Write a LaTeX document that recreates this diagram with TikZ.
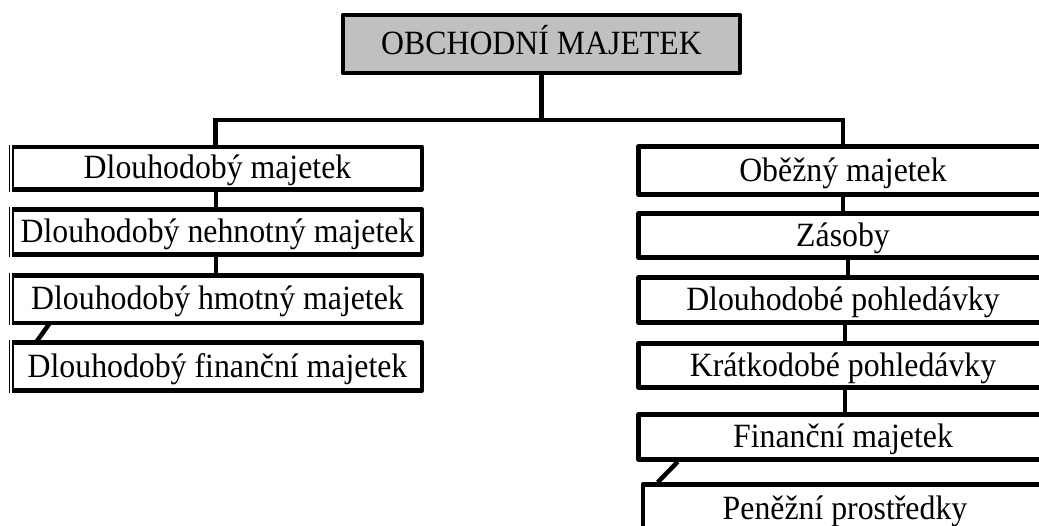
\documentclass[tikz,border=0pt]{standalone}
\usepackage{fontspec}
\setmainfont{Liberation Serif}
\newfontfamily\diagfont[FakeStretch=0.935]{Liberation Serif}
\usetikzlibrary{calc}
\definecolor{boxgray}{HTML}{C0C0C0}
\begin{document}
\begin{tikzpicture}[x=1pt,y=-1pt,
  box/.style={draw, line width=4.5pt, line join=round, inner sep=0pt,
    text height=24pt, text depth=3pt, minimum width=409pt,
    font=\diagfont\fontsize{34pt}{40pt}\selectfont},
  lbox/.style={box, draw=none, outer sep=0pt},
  conn/.style={line width=4.5pt},
  lborder/.style={line width=4.5pt, line join=round},
  lthick/.style={line width=1.7pt},
  lthin/.style={line width=0.8pt}]
\useasboundingbox (0,0) rectangle (1039,525);
\clip (0,0) rectangle (1039,525);

% top
\node[box, fill=boxgray, minimum width=397pt, minimum height=58pt] (top) at (541.5,44) {OBCHODNÍ MAJETEK};

% left column
\node[lbox, minimum height=42.5pt] (L1) at (217.5,168) {Dlouhodobý majetek};
\node[lbox, minimum height=45pt]   (L2) at (217.5,232) {Dlouhodobý nehnotný majetek};
\node[lbox, minimum height=47.5pt] (L3) at (217.5,299) {Dlouhodobý hmotný majetek};
\node[lbox, minimum height=48pt]   (L4) at (217.5,366.5) {Dlouhodobý finanční majetek};
\foreach \n in {L1,L2,L3,L4}{
  \draw[lborder] (\n.north west) -- (\n.north east) -- (\n.south east) -- (\n.south west);
  \draw[lthick] ($(\n.north west)+(0,-2.25)$) -- ($(\n.south west)+(0,2.25)$);
  \draw[lthin] ($(\n.north west)+(-3.5,-2.25)$) -- ($(\n.south west)+(-3.5,2.25)$);
}

% right column
\node[box, minimum height=48pt] (R1) at (843,170.5) {Oběžný majetek};
\node[box, minimum height=44pt] (R2) at (843,235.5) {Zásoby};
\node[box, minimum height=45pt] (R3) at (843,300) {Dlouhodobé pohledávky};
\node[box, minimum height=44pt] (R4) at (843,365.5) {Krátkodobé pohledávky};
\node[box, minimum height=45pt] (R5) at (843,437) {Finanční majetek};
\node[box, minimum width=404pt, minimum height=48pt] (R6) at (845,508.5) {Peněžní prostředky};

% connectors
\coordinate (bus) at (top.south |- 0,120);
\draw[conn] (top.south) -- (bus);
\draw[conn] (bus) -| ([xshift=-2pt]L1.north);
\draw[conn] (bus) -| (R1.north);

\draw[conn] ([xshift=-1.5pt]L1.south) -- ([xshift=-1.5pt]L2.north);
\draw[conn] ([xshift=-1.5pt]L2.south) -- ([xshift=-1.5pt]L3.north);
\draw[conn] ($(L3.south west)+(37,0)$) -- ($(L4.north west)+(23,0)$);

\draw[conn] (R1.south) -- (R2.north);
\draw[conn] ([xshift=5pt]R2.south) -- ([xshift=5pt]R3.north);
\draw[conn] ([xshift=2pt]R3.south) -- ([xshift=2pt]R4.north);
\draw[conn] ([xshift=2pt]R4.south) -- ([xshift=2pt]R5.north);
\draw[conn] ($(R5.south west)+(41.5,0)$) -- ($(R6.north west)+(17,0)$);
\end{tikzpicture}
\end{document}
